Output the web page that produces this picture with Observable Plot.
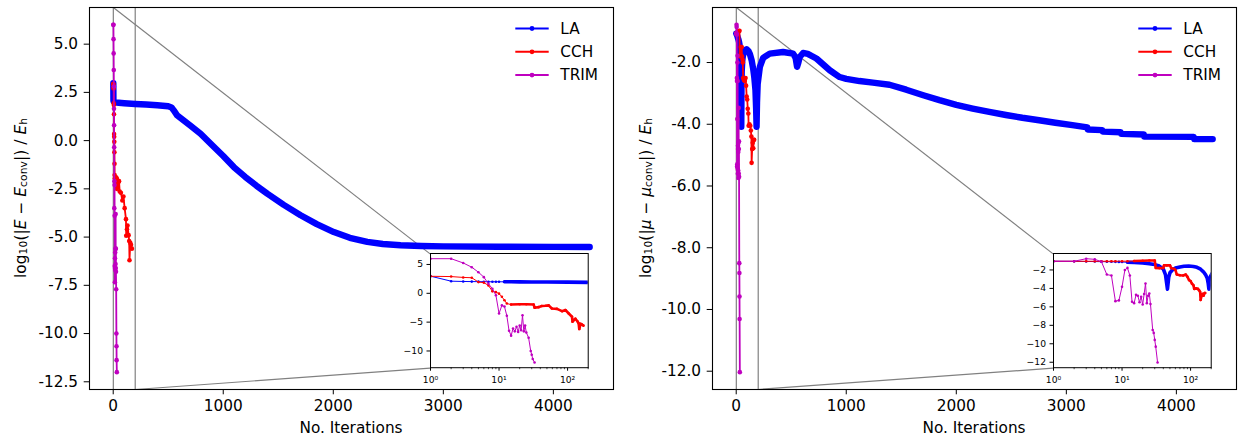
<!DOCTYPE html>
<html><head><meta charset="utf-8">
<script src="https://cdn.jsdelivr.net/npm/d3@7"></script>
<script src="https://cdn.jsdelivr.net/npm/@observablehq/plot@0.6"></script>
<style>
html,body{margin:0;padding:0;background:#fff;}
#fig{position:relative;width:1238px;height:438px;overflow:hidden;background:#fff;}
#fig svg{position:absolute;max-width:none;}
</style></head><body><div id="fig"></div>
<script>
// ---------- data ----------
const seriesNames = ["LA", "CCH", "TRIM"];
const seriesColors = ["#0000ff", "#ff0000", "#bf00bf"];
const xTicks = [0, 1000, 2000, 3000, 4000];
const yTicksE = [5, 2.5, 0, -2.5, -5, -7.5, -10, -12.5];
const yTicksMu = [-2, -4, -6, -8, -10, -12];
const insetXTicks = [1, 10, 100];
const insetXTickLabels = ["10⁰", "10¹", "10²"];
const insetXMinorTicks = [2, 3, 4, 5, 6, 7, 8, 9, 20, 30, 40, 50, 60, 70, 80, 90, 200];
const insetYTicksE = [5, 0, -5, -10];
const insetYTicksMu = [-2, -4, -6, -8, -10, -12];
const zoomXRange = [1, 200];
const xLabel = "No. Iterations";

// Energy error (left panel): [iteration, log10 value]
const LA_E = [[1,2.97],[2,2.1],[3,2.05],[4,2.03],[5,2.02],[6,2.01],[7,2.0],[8,2.0],[9,2.0],[10,2.0],[12,1.99],[15,1.99],[20,1.98],[30,1.97],[50,1.96],[100,1.94],[200,1.9],[300,1.87],[400,1.83],[500,1.78],[530,1.72],[550,1.57],[580,1.31],[650,1.0],[700,0.78],[794,0.36],[900,-0.24],[1000,-0.8],[1096,-1.37],[1200,-1.88],[1300,-2.33],[1400,-2.75],[1550,-3.33],[1703,-3.87],[1850,-4.33],[2005,-4.74],[2150,-5.04],[2309,-5.25],[2450,-5.36],[2612,-5.42],[2800,-5.46],[3000,-5.48],[3500,-5.5],[4000,-5.51],[4330,-5.51]];
const CCH_E = [[1,2.95],[2,2.9],[3,2.75],[4,2.7],[5,1.94],[6,1.85],[7,1.37],[8,0.34],[9,0.2],[10,-0.06],[11,-0.6],[12,-1.2],[13,-1.78],[15,-1.95],[20,-1.9],[25,-1.9],[32,-1.95],[33,-2.5],[38,-2.4],[42,-2.2],[48,-2.15],[53,-2.1],[59,-2.64],[70,-2.7],[83,-3.1],[93,-2.9],[104,-3.5],[116,-4.07],[118,-4.93],[125,-4.6],[130,-4.4],[140,-4.9],[145,-5.2],[148,-6.2],[155,-5.3],[162,-5.4],[170,-5.6]];
const TRIM_E = [[1,6.0],[2,6.0],[3,5.26],[4,4.52],[5,3.66],[6,2.8],[7,1.65],[8,0.8],[9,-0.35],[10,-3.5],[11,-2.1],[12,-2.3],[13,-3.9],[14,-6.5],[15,-7.34],[16,-6.1],[17,-6.6],[18,-5.8],[19,-6.7],[20,-5.6],[21,-6.4],[22,-3.8],[23,-6.6],[24,-5.6],[25,-6.8],[27,-7.7],[29,-10.0],[30,-10.66],[31,-11.38],[33,-12.0]];

// Chemical potential error (right panel)
const LA_MU = [[1,-1.06],[2,-1.07],[3,-1.08],[4,-1.09],[5,-1.1],[6,-1.1],[7,-1.11],[8,-1.12],[9,-1.13],[10,-1.14],[12,-1.16],[15,-1.2],[20,-1.25],[25,-1.32],[30,-1.42],[35,-1.58],[40,-1.9],[43,-2.5],[46,-4.08],[48,-2.8],[50,-2.3],[55,-1.95],[60,-1.8],[70,-1.68],[80,-1.6],[94,-1.57],[110,-1.62],[124,-1.72],[140,-1.92],[154,-2.2],[165,-2.5],[175,-2.9],[181,-3.5],[185,-4.08],[189,-3.3],[195,-2.7],[215,-2.14],[245,-1.85],[305,-1.71],[426,-1.66],[517,-1.71],[540,-1.85],[553,-2.14],[565,-2.0],[577,-1.82],[608,-1.69],[650,-1.72],[729,-1.87],[850,-2.25],[940,-2.47],[1000,-2.53],[1121,-2.6],[1242,-2.65],[1393,-2.72],[1545,-2.88],[1700,-3.06],[1847,-3.22],[2000,-3.37],[2149,-3.49],[2300,-3.6],[2451,-3.7],[2600,-3.79],[2753,-3.87],[2900,-3.95],[3055,-4.03],[3191,-4.1],[3195,-4.17],[3327,-4.19],[3330,-4.24],[3494,-4.26],[3497,-4.31],[3705,-4.33],[3708,-4.4],[4158,-4.41],[4162,-4.48],[4330,-4.48]];
const CCH_MU = [[1,-1.06],[2,-1.06],[3,-1.06],[4,-1.06],[5,-1.06],[6,-1.06],[7,-1.06],[8,-1.06],[10,-1.05],[12,-1.05],[15,-1.03],[20,-1.0],[25,-0.98],[30,-0.97],[31,-1.78],[35,-1.8],[40,-1.78],[41,-1.5],[45,-1.5],[50,-1.5],[52,-1.8],[58,-1.9],[60,-2.0],[63,-2.5],[70,-2.57],[78,-2.6],[85,-2.5],[90,-2.75],[95,-3.1],[100,-3.2],[105,-3.5],[110,-3.65],[113,-4.05],[120,-4.0],[128,-4.05],[133,-4.2],[138,-4.4],[140,-5.25],[145,-4.8],[150,-4.6],[155,-4.78],[160,-4.5],[163,-4.5]];
const TRIM_MU = [[1,-1.06],[2,-1.06],[3,-0.78],[4,-0.85],[5,-1.1],[6,-2.5],[7,-2.6],[8,-5.38],[9,-5.3],[10,-3.83],[11,-2.0],[12,-1.78],[13,-2.6],[14,-5.45],[15,-5.6],[16,-4.7],[17,-4.8],[18,-5.5],[19,-4.9],[20,-5.74],[21,-4.6],[22,-3.47],[23,-5.6],[24,-4.8],[25,-4.55],[26,-5.7],[28,-8.5],[29,-8.82],[30,-9.58],[31,-10.31],[33,-12.03]];

const yLabelE = [["log",""],["10","sub"],["(|",""],["E","i"],[" − ",""],["E","i"],["conv","sub"],["|) / ",""],["E","i"],["h","sub"]];
const yLabelMu = [["log",""],["10","sub"],["(|",""],["μ","i"],[" − ",""],["μ","i"],["conv","sub"],["|) / ",""],["E","i"],["h","sub"]];

// ---------- drawing ----------
const fig = document.getElementById("fig");
const FIG_H = 438, MT = 7, MB = 49;
const FONT = "DejaVu Sans", FS = 15.3, IFS = 9.2;
const insetFracX = [0.65, 0.951], insetFracY = [0.645, 0.944];
const X = d => d[0], Y = d => d[1];
const minusFmt = d => (d < 0 ? "\u2212" + Math.abs(d) : String(d));

function pad5(e) { const r = e[1] - e[0]; return [e[0] - 0.05 * r, e[1] + 0.05 * r]; }
function place(svg, left, top) {
  svg.style.position = "absolute"; svg.style.left = left + "px"; svg.style.top = top + "px";
  svg.style.maxWidth = "none"; fig.appendChild(svg);
}

function panel(cfg) {
  const {data, yTicks, insetYTicks, left, width, mL, mR, ylabel, ylabelX} = cfg;
  const all = data[0].concat(data[1], data[2]);
  const xd = pad5(d3.extent(all, X));
  const yd = pad5(d3.extent(all, Y));
  const fL = mL, fR = width - mR, fT = MT, fB = FIG_H - MB;
  const xs = d3.scaleLinear(xd, [fL, fR]), ys = d3.scaleLinear(yd, [fB, fT]);
  const inL = fL + insetFracX[0] * (fR - fL), inR = fL + insetFracX[1] * (fR - fL);
  const inT = fT + insetFracY[0] * (fB - fT), inB = fT + insetFracY[1] * (fB - fT);
  const connectors = [
    {x1: zoomXRange[0], y1: yd[1], x2: xs.invert(inL), y2: ys.invert(inT)},
    {x1: zoomXRange[1], y1: yd[0], x2: xs.invert(inL), y2: ys.invert(inB)}
  ];
  const marks = [
    Plot.ruleX(zoomXRange, {stroke: "#808080", strokeWidth: 1.2}),
    Plot.link(connectors, {x1: "x1", y1: "y1", x2: "x2", y2: "y2", stroke: "#808080", strokeWidth: 1.2}),
    Plot.line(data[0], {x: X, y: Y, stroke: seriesColors[0], strokeWidth: 6.4, strokeLinecap: "round", strokeLinejoin: "round"})
  ];
  for (const k of [1, 2]) {
    marks.push(Plot.line(data[k], {x: X, y: Y, stroke: seriesColors[k], strokeWidth: 1.8}));
    marks.push(Plot.dot(data[k], {x: X, y: Y, r: 2.3, fill: seriesColors[k]}));
  }
  marks.push(Plot.frame({stroke: "black", strokeWidth: 1.1}));
  const svg = Plot.plot({
    width, height: FIG_H, marginLeft: mL, marginRight: mR, marginTop: MT, marginBottom: MB,
    style: {fontFamily: FONT, fontSize: FS + "px", color: "black", background: "white"},
    x: {domain: xd, ticks: xTicks, tickFormat: d3.format("d"), tickSize: 5.3, tickPadding: 5.3, label: null},
    y: {domain: yd, ticks: yTicks, tickFormat: d => d.toFixed(1), tickSize: 5.3, tickPadding: 6.2, label: null},
    marks
  });
  const s = d3.select(svg);
  // y label
  const t = s.append("text")
    .attr("transform", `translate(${ylabelX},${(fT + fB) / 2}) rotate(-90)`)
    .attr("text-anchor", "middle").attr("dominant-baseline", "central")
    .attr("font-family", FONT).attr("font-size", FS).attr("fill", "black")
    .attr("textLength", 160).attr("lengthAdjust", "spacing")
    .style("white-space", "pre");
  for (const [txt, st] of ylabel) {
    const ts = t.append("tspan").text(txt);
    if (st === "i") ts.attr("font-style", "italic");
    if (st === "sub") ts.attr("baseline-shift", "-22%").attr("font-size", "70%");
  }
  // x label
  s.append("text").attr("x", (fL + fR) / 2).attr("y", 433).attr("text-anchor", "middle")
    .attr("font-family", FONT).attr("font-size", FS).attr("fill", "black").text(xLabel);
  // legend
  const lg = s.append("g");
  seriesNames.forEach((n, i) => {
    const cy = 28.5 + i * 23.3;
    lg.append("line").attr("x1", fR - 97.7).attr("x2", fR - 64.3).attr("y1", cy).attr("y2", cy)
      .attr("stroke", seriesColors[i]).attr("stroke-width", 2);
    lg.append("circle").attr("cx", fR - 81).attr("cy", cy).attr("r", 2.4).attr("fill", seriesColors[i]);
    lg.append("text").attr("x", fR - 52.7).attr("y", cy).attr("dominant-baseline", "central")
      .attr("text-anchor", "start")
      .attr("font-family", FONT).attr("font-size", FS).attr("fill", "black").text(n);
  });
  place(svg, left, 0);

  // ----- inset -----
  const iL = 30, iR = 4, iT = 4, iB = 24;
  const iw = (inR - inL) + iL + iR, ih = (inB - inT) + iT + iB;
  const iys = d3.scaleLinear(yd, [ih - iB, iT]);
  const clipX = d => d[0] <= 320;
  const imarks = [
    Plot.frame({fill: "white"}),
    Plot.line(data[0].filter(clipX), {x: X, y: Y, stroke: seriesColors[0], strokeWidth: 1, clip: true}),
    Plot.line(data[0].filter(d => d[0] >= 12 && clipX(d)), {x: X, y: Y, stroke: seriesColors[0], strokeWidth: 3.6, strokeLinejoin: "round", clip: true}),
    Plot.dot(data[0].filter(d => d[0] <= 12), {x: X, y: Y, r: 1.3, fill: seriesColors[0], clip: true})
  ];
  imarks.push(Plot.line(data[1], {x: X, y: Y, stroke: seriesColors[1], strokeWidth: 1, clip: true}));
  imarks.push(Plot.line(data[1].filter(d => d[0] >= 15), {x: X, y: Y, stroke: seriesColors[1], strokeWidth: 2.6, strokeLinejoin: "round", clip: true}));
  imarks.push(Plot.dot(data[1], {x: X, y: Y, r: 1.3, fill: seriesColors[1], clip: true}));
  imarks.push(Plot.line(data[2], {x: X, y: Y, stroke: seriesColors[2], strokeWidth: 1, clip: true}));
  imarks.push(Plot.dot(data[2], {x: X, y: Y, r: 1.3, fill: seriesColors[2], clip: true}));
  imarks.push(Plot.ruleX(insetXMinorTicks, {y1: yd[0], y2: iys.invert(ih - iB + 2), stroke: "black", strokeWidth: 0.7}));
  imarks.push(Plot.frame({stroke: "black", strokeWidth: 1}));
  const isvg = Plot.plot({
    width: iw, height: ih, marginLeft: iL, marginRight: iR, marginTop: iT, marginBottom: iB,
    style: {fontFamily: FONT, fontSize: IFS + "px", color: "black", background: "transparent"},
    x: {type: "log", domain: zoomXRange, ticks: insetXTicks,
        tickFormat: d => insetXTickLabels[insetXTicks.indexOf(d)], tickSize: 3.5, tickPadding: 5, label: null},
    y: {domain: yd, ticks: insetYTicks, tickFormat: minusFmt, tickSize: 3.5, tickPadding: 4, label: null},
    marks: imarks
  });
  place(isvg, left + inL - iL, inT - iT);
}

panel({data: [LA_E, CCH_E, TRIM_E], yTicks: yTicksE, insetYTicks: insetYTicksE,
  left: 0, width: 620, mL: 89, mR: 7, ylabel: yLabelE, ylabelX: 21});
panel({data: [LA_MU, CCH_MU, TRIM_MU], yTicks: yTicksMu, insetYTicks: insetYTicksMu,
  left: 620, width: 618, mL: 92, mR: 2, ylabel: yLabelMu, ylabelX: 26});
</script></body></html>
